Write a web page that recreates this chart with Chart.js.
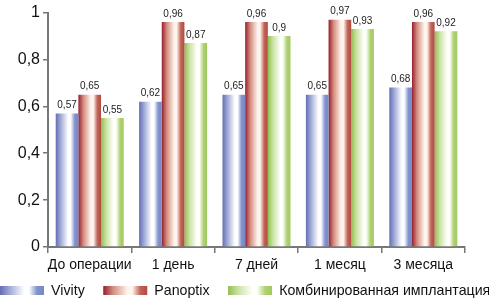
<!DOCTYPE html>
<html>
<head>
<meta charset="utf-8">
<script src="https://cdn.jsdelivr.net/npm/chart.js@4/dist/chart.umd.min.js"></script>
<style>
  html, body { margin: 0; padding: 0; background: #fff; overflow: hidden; }
  #wrap { width: 489px; height: 300px; }
</style>
</head>
<body>
<div id="wrap"><canvas id="c" width="489" height="300"></canvas></div>
<script>
const categories = ["До операции", "1 день", "7 дней", "1 месяц", "3 месяца"];
const seriesNames = ["Vivity", "Panoptix", "Комбинированная имплантация"];
const vivity   = [0.57, 0.62, 0.65, 0.65, 0.68];
const panoptix = [0.65, 0.96, 0.96, 0.97, 0.96];
const combined = [0.55, 0.87, 0.90, 0.93, 0.92];
const yTicks = [0, 0.2, 0.4, 0.6, 0.8, 1];

const FONT = "'Liberation Sans', Arial, sans-serif";

// gradient palettes: [left edge, near-left, middle, right part, right edge]
const palettes = [
  ["rgb(100,110,178)", "rgb(160,170,215)", "rgb(255,255,255)", "rgb(130,148,206)", "rgb(118,135,198)"],
  ["rgb(150,30,45)",   "rgb(212,140,125)", "rgb(254,244,238)", "rgb(195,100,88)",  "rgb(175,75,65)"],
  ["rgb(145,190,80)",  "rgb(200,226,160)", "rgb(255,255,252)", "rgb(175,210,115)", "rgb(160,200,95)"]
];

function makeGrad(ctx, x0, x1, p) {
  const g = ctx.createLinearGradient(x0, 0, x1, 0);
  g.addColorStop(0, p[0]);
  g.addColorStop(0.22, p[1]);
  g.addColorStop(0.55, p[2]);
  g.addColorStop(0.66, p[2]);
  g.addColorStop(0.84, p[3]);
  g.addColorStop(1, p[4]);
  return g;
}

const fmt = v => String(v).replace('.', ',');

const LEGEND_PAD = 18.5;
const LEGEND_H = 24;

const gradientPlugin = {
  id: 'gradients',
  beforeLayout(chart) {
    const lg = chart.legend;
    if (lg && !lg._patched) {
      lg._patched = true;
      const orig = lg.fit;
      lg.fit = function () {
        this.maxWidth = 1200;
        orig.call(this);
        this.height = LEGEND_H;
      };
    }
  },
  beforeDraw(chart) {
    const ctx = chart.ctx;
    const lg = chart.legend;
    if (lg && lg.legendItems) {
      lg.left = -LEGEND_PAD;
      lg.right = 1200;
      const itemH = lg._itemHeight || 16;
      lg.top = 291.5 - LEGEND_PAD - itemH / 2;
      let x = lg.left + LEGEND_PAD;
      const bw = lg.options.labels.boxWidth;
      lg.legendItems.forEach((item, i) => {
        const hb = lg.legendHitBoxes[i];
        item.fillStyle = makeGrad(ctx, x, x + bw, palettes[i]);
        item.strokeStyle = 'rgba(0,0,0,0)';
        item.lineWidth = 0;
        x += hb.width + LEGEND_PAD;
      });
    }
  },
  beforeDatasetsDraw(chart) {
    const ctx = chart.ctx;
    chart.data.datasets.forEach((ds, di) => {
      const meta = chart.getDatasetMeta(di);
      meta.data.forEach(el => {
        const x0 = el.x - el.width / 2, x1 = el.x + el.width / 2;
        el.options = Object.assign({}, el.options, { backgroundColor: makeGrad(ctx, x0, x1, palettes[di]) });
      });
    });
  },
  afterDatasetsDraw(chart) {
    const ctx = chart.ctx;
    ctx.save();
    ctx.font = "10px " + FONT;
    ctx.fillStyle = "#222";
    ctx.textAlign = "center";
    ctx.textBaseline = "bottom";
    chart.data.datasets.forEach((ds, di) => {
      const meta = chart.getDatasetMeta(di);
      meta.data.forEach((el, i) => {
        ctx.fillText(fmt(ds.data[i]), el.x, el.y - 3);
      });
    });
    ctx.restore();
  }
};

new Chart(document.getElementById('c'), {
  type: 'bar',
  data: {
    labels: categories,
    datasets: [
      { label: seriesNames[0], data: vivity,   backgroundColor: () => palettes[0][0] },
      { label: seriesNames[1], data: panoptix, backgroundColor: () => palettes[1][0] },
      { label: seriesNames[2], data: combined, backgroundColor: () => palettes[2][0] }
    ]
  },
  options: {
    responsive: false,
    animation: false,
    events: [],
    layout: { padding: { top: 12, right: 24, left: 0, bottom: 0 } },
    datasets: { bar: { categoryPercentage: 0.815, barPercentage: 1.0, borderWidth: 0 } },
    plugins: {
      legend: {
        position: 'bottom',
        align: 'start',
        labels: {
          boxWidth: 44,
          boxHeight: 9,
          padding: LEGEND_PAD,
          color: '#111',
          font: { family: FONT, size: 14.2 }
        }
      },
      tooltip: { enabled: false }
    },
    scales: {
      x: {
        offset: true,
        grid: { offset: true, drawOnChartArea: false, drawTicks: true, tickLength: 6, color: '#777', lineWidth: 1.5 },
        border: { display: true, color: '#777', width: 2 },
        ticks: { color: '#111', font: { family: FONT, size: 14 }, padding: 4, maxRotation: 0, autoSkip: false },
        afterFit(s) { s.height = 29; }
      },
      y: {
        min: 0, max: 1,
        afterBuildTicks(s) { s.ticks = yTicks.map(v => ({ value: v })); },
        grid: { drawOnChartArea: false, drawTicks: true, tickLength: 5, color: '#777', lineWidth: 1.5 },
        border: { display: true, color: '#777', width: 2 },
        ticks: { color: '#111', font: { family: FONT, size: 16 }, padding: 3, callback: v => fmt(v) },
        afterFit(s) { s.width = 48; }
      }
    }
  },
  plugins: [gradientPlugin]
});
</script>
</body>
</html>
